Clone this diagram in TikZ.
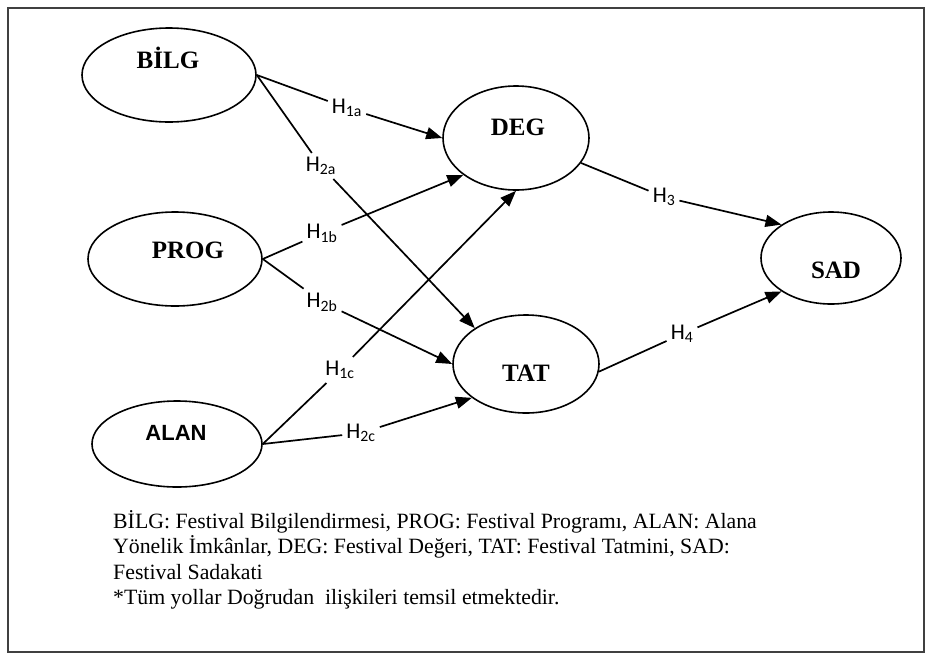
\documentclass[tikz,border=0pt]{standalone}
\usepackage{fontspec}
\setmainfont{Liberation Serif}
\newfontfamily\hfont{Carlito}
\newfontfamily\sansb{Liberation Sans}
\usetikzlibrary{shapes.geometric,arrows.meta}
\begin{document}
\begin{tikzpicture}[x=1pt,y=-1pt,
  latent/.style={draw, ellipse, line width=1.6pt, inner sep=0pt},
  hyp/.style={font=\hfont\fontsize{22.5}{26}\selectfont, inner sep=4pt},
  link/.style={line width=1.7pt},
  arr/.style={line width=1.7pt, -{Triangle[length=16pt,width=12pt]}},
  ltxt/.style={font=\bfseries\fontsize{25}{30}\selectfont, inner sep=0pt},
  atxt/.style={font=\sansb\bfseries\fontsize{22}{26}\selectfont, inner sep=0pt}]
\useasboundingbox (0,0) rectangle (943,670);
\draw[line width=1.5pt, black!75] (8,8) rectangle (924,652);

% latent variables
\node[latent, minimum width=174pt, minimum height=94pt] (BILG) at (169,75) {};
\node[latent, minimum width=174pt, minimum height=94pt] (PROG) at (175,259) {};
\node[latent, minimum width=170pt, minimum height=86pt] (ALAN) at (177,444) {};
\node[latent, minimum width=146pt, minimum height=104pt] (DEG) at (516,138) {};
\node[latent, minimum width=146pt, minimum height=98pt] (TAT) at (526,364) {};
\node[latent, minimum width=140pt, minimum height=92pt] (SAD) at (831,258) {};

\node[ltxt] (tBILG) at (168,58) {BİLG};
\node[ltxt] (tPROG) at (188,250) {PROG};
\node[atxt] (tALAN) at (176,433) {ALAN};
\node[ltxt] (tDEG) at (518,127) {DEG};
\node[ltxt] (tTAT) at (526,373) {TAT};
\node[ltxt] (tSAD) at (836,270) {SAD};

% hypothesis labels
\node[hyp] (h1a) at (347,108) {H\textsubscript{1a}};
\node[hyp] (h2a) at (321,166) {H\textsubscript{2a}};
\node[hyp] (h1b) at (322,233) {H\textsubscript{1b}};
\node[hyp] (h2b) at (322,302) {H\textsubscript{2b}};
\node[hyp] (h1c) at (340,370) {H\textsubscript{1c}};
\node[hyp] (h2c) at (361,433) {H\textsubscript{2c}};
\node[hyp] (h3) at (664,197) {H\textsubscript{3}};
\node[hyp] (h4) at (682,334) {H\textsubscript{4}};

% paths
\draw[link] (BILG.east) -- (h1a);
\draw[arr] (h1a) -- (DEG.west);
\draw[link] (BILG.east) -- (h2a);
\draw[arr] (h2a) -- (TAT.145);
\draw[link] (PROG.east) -- (h1b);
\draw[arr] (h1b) -- (DEG.215);
\draw[link] (PROG.east) -- (h2b);
\draw[arr] (h2b) -- (TAT.west);
\draw[link] (ALAN.east) -- (h1c);
\draw[arr] (h1c) -- (DEG.south);
\draw[link] (ALAN.east) -- (h2c);
\draw[arr] (h2c) -- (TAT.212);
\draw[link] (DEG.-21) -- (h3);
\draw[arr] (h3) -- (SAD.146);
\draw[link] (TAT.-6) -- (h4);
\draw[arr] (h4) -- (SAD.214);

% caption
\node[anchor=north west, align=left, inner sep=0pt,
      font=\fontsize{21.8}{25.5}\selectfont] (cap) at (113,510)
  {BİLG: Festival Bilgilendirmesi, PROG: Festival Programı, ALAN: Alana\\
   Yönelik İmkânlar, DEG: Festival Değeri, TAT: Festival Tatmini, SAD:\\
   Festival Sadakati\\
   *Tüm yollar Doğrudan~ ilişkileri temsil etmektedir.};
\end{tikzpicture}
\end{document}
